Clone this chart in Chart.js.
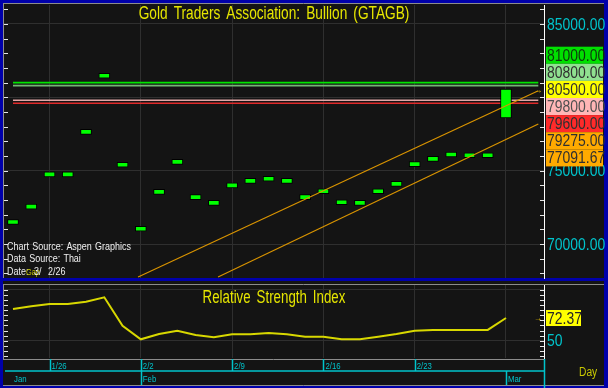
<!DOCTYPE html>
<html>
<head>
<meta charset="utf-8">
<script src="https://cdn.jsdelivr.net/npm/chart.js@4.4.1/dist/chart.umd.min.js"></script>
<style>
  html, body { margin: 0; padding: 0; background: #0000aa; }
  #wrap { position: relative; width: 608px; height: 388px; overflow: hidden; }
  canvas { position: absolute; left: 0; display: block; }
  #main { top: 0; }
  #rsi { top: 281px; }
</style>
</head>
<body>
<div id="wrap">
  <canvas id="main" width="608" height="281"></canvas>
  <canvas id="rsi" width="608" height="107"></canvas>
</div>
<script>
// trading days shown on the chart
const days = ['1/22', '1/23', '1/26', '1/27', '1/28', '1/29', '1/30',
    '2/2', '2/3', '2/4', '2/5', '2/6', '2/9', '2/10', '2/11', '2/12', '2/13',
    '2/16', '2/17', '2/18', '2/19', '2/20', '2/23', '2/24', '2/25', '2/26', '2/27', '3/2'];

// daily bars (low / high of each box)
const barLow = [71330, 72380, 74580, 74580, 77470, 81300, 75230, 70870, 73380, 75430,
    73030, 72630, 73830, 74130, 74280, 74130, 73030, 73430, 72680, 72630,
    73430, 73930, 75280, 75630, 75930, 75880, 75880, 78590];
const barHigh = [71670, 72720, 74920, 74920, 77810, 81640, 75570, 71210, 73720, 75770,
    73370, 72970, 74170, 74470, 74620, 74470, 73370, 73770, 73020, 72970,
    73770, 74270, 75620, 75970, 76270, 76220, 76220, 80570];

const rsiValues = [81.3, 83.9, 86.2, 86.2, 88.5, 92.8, 64.8, 51.4, 56.6, 59.9,
    55.6, 53.4, 56.3, 56.3, 57.6, 56.3, 53.9, 53.9, 51.4, 51.4,
    53.9, 56.6, 59.9, 60.6, 60.6, 60.6, 60.6, 72.37];

const levelValues = [81000, 80800, 79800, 79600];
const levelTags = ['81000.00', '80800.00', '80500.00', '79800.00', '79600.00', '79275.00', '77091.67'];
const upperChannel = [{x: 6.85, y: 67750}, {x: 28.77, y: 80450}];
const lowerChannel = [{x: 11.23, y: 67750}, {x: 28.77, y: 78180}];

const priceTicks = [70000, 75000, 80000, 85000];
const rsiTicks = [50, 100];
const weekLabels = ['1/26', '2/2', '2/9', '2/16', '2/23'];
const monthLabels = ['Jan', 'Feb', 'Mar'];
const monthStarts = ['1/22', '2/2', '3/2'];
const rsiTag = '72.37';

const FONT = "'Liberation Sans', Arial, sans-serif";
const BG = '#141414';
const GRID = '#2f2f2f';
const BLUE = '#0000aa';
const CYAN = '#00c4cc';
const X_MIN = -0.493, X_MAX = 29.082;

const levelColors = ['#00e600', '#74b874', '#e2a6a6', '#e02a2a'];
const tagColors = ['#00e000', '#90e090', '#ffff00', '#ffb6b6', '#ff2a2a', '#ffaa00', '#ffaa00'];
const tagText = ['#0c3a0c', '#303030', '#303030', '#505050', '#303030', '#303030', '#303030'];
const weekIdx = weekLabels.map(d => days.indexOf(d));

// condensed text, like the narrow face of the original
function narrowText(ctx, text, x, y, size, color, align, spacing, squeeze) {
    ctx.save();
    ctx.font = size + 'px ' + FONT;
    ctx.fillStyle = color;
    ctx.textBaseline = 'middle';
    ctx.textAlign = align || 'left';
    ctx.wordSpacing = (spacing || 0) + 'px';
    ctx.translate(x, y);
    ctx.scale(squeeze || 0.82, 1);
    ctx.fillText(text, 0, 0);
    ctx.restore();
}

function xAxis() {
    return {
        type: 'linear', min: X_MIN, max: X_MAX, offset: false,
        afterBuildTicks: s => { s.ticks = weekIdx.concat([days.indexOf('3/2')]).map(v => ({value: v})); },
        ticks: {display: false},
        grid: {color: GRID, drawTicks: false, offset: false},
        border: {display: false}
    };
}

function yAxis(min, max, ticks) {
    return {
        position: 'right', min: min, max: max,
        afterBuildTicks: s => { s.ticks = ticks.map(v => ({value: v})); },
        afterFit: s => { s.width = 64; },
        ticks: {display: false},
        grid: {color: GRID, drawTicks: false},
        border: {color: '#ffffff', width: 1}
    };
}

function edgeTicks(ctx, scale, from, to, step) {
    ctx.save();
    ctx.strokeStyle = '#e6e6e6';
    ctx.lineWidth = 1;
    ctx.beginPath();
    for (let v = from; v <= to; v += step) {
        const py = Math.round(scale.getPixelForValue(v)) + 0.5;
        ctx.moveTo(4, py); ctx.lineTo(8, py);
        ctx.moveTo(540, py); ctx.lineTo(544, py);
    }
    ctx.stroke();
    ctx.restore();
}

const mainDecor = {
    id: 'mainDecor',
    beforeDraw(chart) {
        const ctx = chart.ctx;
        ctx.save();
        ctx.fillStyle = BLUE;
        ctx.fillRect(0, 0, 608, 281);
        ctx.fillStyle = BG;
        ctx.fillRect(3, 3, 601, 275);
        ctx.strokeStyle = '#8c8c8c';
        ctx.lineWidth = 1;
        ctx.beginPath();
        ctx.moveTo(3, 3.5); ctx.lineTo(604, 3.5);
        ctx.moveTo(3.5, 3); ctx.lineTo(3.5, 278);
        ctx.stroke();
        ctx.restore();
    },
    afterDraw(chart) {
        const ctx = chart.ctx, y = chart.scales.y, x = chart.scales.x;
        edgeTicks(ctx, y, 68000, 86000, 1000);

        narrowText(ctx, 'Gold Traders Association: Bullion (GTAGB)', 274, 14, 18, '#e6e600', 'center', 3, 0.76);

        narrowText(ctx, 'Chart Source: Aspen Graphics', 7, 247, 11.5, '#f0f0f0', 'left', 1, 0.78);
        narrowText(ctx, 'Data Source: Thai', 7, 259, 11.5, '#f0f0f0', 'left', 1, 0.78);
        narrowText(ctx, 'Date:', 7, 272, 11.5, '#f0f0f0', 'left', 0, 0.78);
        narrowText(ctx, 'Gap', 26, 273, 9, '#c8c800');
        narrowText(ctx, '3/', 34, 272, 11.5, '#f0f0f0', 'left', 0, 0.78);
        narrowText(ctx, '2/26', 48, 272, 11.5, '#f0f0f0', 'left', 0, 0.78);

        // price labels on the right axis (80000 sits under the level tags)
        priceTicks.filter(v => v !== 80000).forEach(v => {
            narrowText(ctx, v.toFixed(2), 547, y.getPixelForValue(v) + 1, 17, CYAN);
        });

        // stacked level tags
        levelTags.forEach((t, k) => {
            const top = 46.7 + 17.1 * k;
            ctx.fillStyle = tagColors[k];
            ctx.fillRect(546, top, 57, 17.1);
            narrowText(ctx, t, 547, top + 9.3, 17, tagText[k]);
        });

        // arrow at end of upper channel
        const ax = x.getPixelForValue(upperChannel[1].x), ay = y.getPixelForValue(upperChannel[1].y);
        narrowText(ctx, '\u2192', ax - 4, ay, 10, '#e8c000');
    }
};

const lineSet = (data, color, width, order) => ({
    type: 'line', data: data, borderColor: color, borderWidth: width,
    pointRadius: 0, tension: 0, fill: false, order: order
});

new Chart(document.getElementById('main'), {
    type: 'bar',
    data: {
        datasets: [
            {
                type: 'bar',
                data: barLow.map((lo, i) => ({x: i, y: [lo, barHigh[i]]})),
                backgroundColor: '#00ff00',
                borderColor: '#000',
                borderWidth: 1,
                borderSkipped: false,
                barThickness: 11,
                order: 2
            },
            ...levelValues.map((v, k) => lineSet([{x: 0, y: v}, {x: 28.77, y: v}], levelColors[k], 1.6, 3)),
            lineSet(upperChannel, '#d99400', 1.2, 1),
            lineSet(lowerChannel, '#d99400', 1.2, 1)
        ]
    },
    options: {
        responsive: false,
        animation: false,
        layout: {padding: {left: 4, top: 5, right: 0, bottom: 3}},
        plugins: {legend: {display: false}, tooltip: {enabled: false}},
        scales: {
            x: xAxis(),
            y: yAxis(67682, 86295, priceTicks)
        }
    },
    plugins: [mainDecor]
});

const rsiDecor = {
    id: 'rsiDecor',
    beforeDraw(chart) {
        const ctx = chart.ctx;
        ctx.save();
        ctx.fillStyle = BLUE;
        ctx.fillRect(0, 0, 608, 107);
        ctx.fillStyle = BG;
        ctx.fillRect(3, 0, 601, 104);
        ctx.strokeStyle = '#8c8c8c';
        ctx.lineWidth = 1;
        ctx.beginPath();
        ctx.moveTo(3, 3.5); ctx.lineTo(604, 3.5);
        ctx.moveTo(3.5, 3); ctx.lineTo(3.5, 78);
        ctx.moveTo(3, 78.5); ctx.lineTo(544, 78.5);
        ctx.moveTo(3, 104.5); ctx.lineTo(604, 104.5);
        ctx.stroke();
        ctx.restore();
    },
    afterDraw(chart) {
        const ctx = chart.ctx, y = chart.scales.y, x = chart.scales.x;
        edgeTicks(ctx, y, 35, 100, 5);

        narrowText(ctx, 'Relative Strength Index', 274, 17, 17.5, '#e6e600', 'center', 3, 0.76);

        // RSI scale label and last value tag
        narrowText(ctx, String(rsiTicks[0]), 547, y.getPixelForValue(rsiTicks[0]) + 1, 17, CYAN);
        const ty = y.getPixelForValue(rsiValues[rsiValues.length - 1]);
        ctx.fillStyle = '#ffff00';
        ctx.fillRect(546, ty - 8, 35, 16);
        narrowText(ctx, rsiTag, 547, ty + 1, 17, '#262626');
        narrowText(ctx, '\u2192', 534, ty, 10, '#e8c000');

        // date rows
        const rowTop = 78, rowMid = 90, rowBot = 107;
        ctx.save();
        ctx.strokeStyle = CYAN;
        ctx.lineWidth = 1.5;
        ctx.beginPath();
        ctx.moveTo(5, rowMid); ctx.lineTo(544, rowMid);
        ctx.moveTo(544.5, rowTop); ctx.lineTo(544.5, rowBot);
        weekIdx.forEach(i => {
            const px = Math.round(x.getPixelForValue(i)) + 0.5;
            ctx.moveTo(px, rowTop); ctx.lineTo(px, rowMid);
        });
        monthStarts.slice(1).forEach(d => {
            const px = Math.round(x.getPixelForValue(days.indexOf(d))) + 0.5;
            ctx.moveTo(px, rowMid); ctx.lineTo(px, rowBot - 3);
        });
        ctx.stroke();
        ctx.restore();

        weekLabels.forEach((lab, k) => {
            narrowText(ctx, lab, x.getPixelForValue(weekIdx[k]) + 2, 85, 9.5, CYAN);
        });
        monthLabels.forEach((lab, k) => {
            const px = k === 0 ? 14 : x.getPixelForValue(days.indexOf(monthStarts[k])) + 2;
            narrowText(ctx, lab, px, 98, 9.5, CYAN);
        });

        narrowText(ctx, 'Day', 579, 92, 12.5, '#c8c800');
    }
};

new Chart(document.getElementById('rsi'), {
    type: 'line',
    data: {
        datasets: [{
            data: rsiValues.map((v, i) => ({x: i, y: v})),
            borderColor: '#d8d800',
            borderWidth: 2,
            pointRadius: 0,
            tension: 0,
            fill: false
        }]
    },
    options: {
        responsive: false,
        animation: false,
        layout: {padding: {left: 4, top: 4, right: 0, bottom: 30}},
        plugins: {legend: {display: false}, tooltip: {enabled: false}},
        scales: {
            x: xAxis(),
            y: yAxis(32.94, 104.93, rsiTicks)
        }
    },
    plugins: [rsiDecor]
});
</script>
</body>
</html>
